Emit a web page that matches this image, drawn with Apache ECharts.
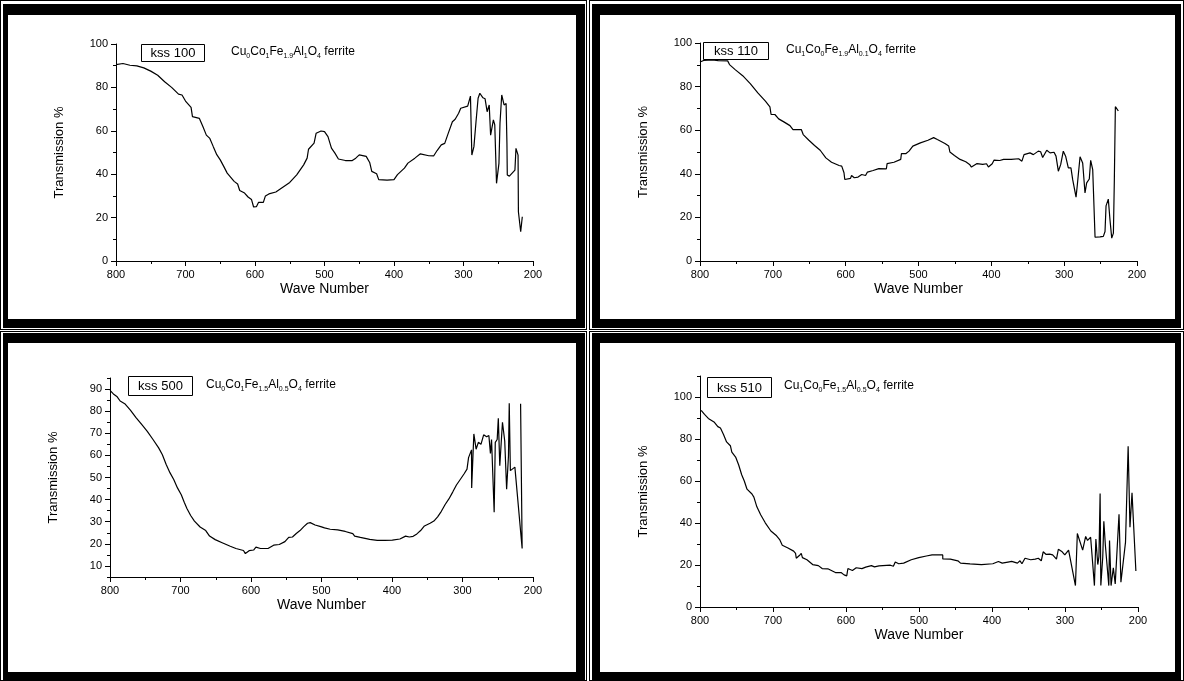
<!DOCTYPE html>
<html>
<head>
<meta charset="utf-8">
<script src="https://cdn.jsdelivr.net/npm/echarts@6/dist/echarts.min.js"></script>
<style>
  html, body { margin: 0; padding: 0; background: #fff; }
  #wrap { position: relative; width: 1184px; height: 681px; overflow: hidden; background: #fff; }
  .thin { position: absolute; border: 1px solid #000; box-sizing: border-box; }
  .band { position: absolute; border-style: solid; border-color: #000; box-sizing: border-box; }
  #chart { position: absolute; left: 0; top: 0; width: 1184px; height: 681px; }
</style>
</head>
<body>
<div id="wrap">
  <div id="frames"></div>
  <div id="chart"></div>
</div>
<script>
// ---------------- DATA ----------------
const panelNames = ['kss 100', 'kss 110', 'kss 500', 'kss 510'];

const xMajorTicks = [200, 300, 400, 500, 600, 700, 800];
const xMinorTicks = [250, 350, 450, 550, 650, 750];

const y1Major = [0, 20, 40, 60, 80, 100];
const y1Minor = [10, 30, 50, 70, 90];
const y3Major = [10, 20, 30, 40, 50, 60, 70, 80, 90];
const y3Minor = [5, 15, 25, 35, 45, 55, 65, 75, 85, 95];
const y4Major = [0, 20, 40, 60, 80, 100];
const y4Minor = [10, 30, 50, 70, 90, 110];

// kss 100
const p1Wave = [800,790,780,770,760,750,740,730,720,710,705,700,692,690,680,675,670,665,660,655,650,645,640,630,625,622,615,610,605,602,598,595,588,585,580,570,560,550,540,530,525,523,515,512,505,500,495,490,485,480,470,460,455,450,440,435,432,425,422,410,400,395,385,380,370,362,350,343,338,332,327,322,316,312,307,304,302,294,290,288,285,282,279,276.5,272,269,266,263,261,257,255,252.5,249,247.5,245,241.6,238.7,237.5,237,234,226,224.5,221.5,221,217.7,215.4];
const p1Trans = [90.5,91.0,90.2,89.9,89.0,87.5,85.6,82.6,80.0,76.9,76.5,73.7,70.8,66.5,65.7,62.0,58.0,56.5,52.7,49.0,46.6,43.6,40.5,36.7,35.5,32.5,31.3,29.5,28.3,24.9,25.0,27.0,27.0,30.0,30.9,31.8,34.0,36.2,39.7,44.3,47.4,51.5,54.3,58.9,59.9,59.6,57.3,52.0,49.7,47.0,46.3,46.3,47.4,48.9,48.2,45.4,41.3,40.2,37.5,37.3,37.5,39.8,42.8,45.1,47.4,49.4,48.5,48.4,50.9,53.5,54.2,58.8,64.2,65.3,68.1,70.4,71.3,71.4,76.0,48.8,52.7,64.2,75.0,77.3,75.2,74.8,68.8,71.9,58.0,65.0,62.7,35.8,45.0,63.5,76.5,71.9,72.6,54.2,39.6,39.1,41.9,51.9,48.8,22.7,13.5,20.4];

// kss 110
const p2Wave = [800,795,783,781,775,762,759.5,751.7,741.4,731,720.6,710.2,704,702.4,697.2,694.6,692,684.3,676.5,672.3,660.9,658.3,650.5,642.7,635,627.2,619.4,609,605.4,602.3,601.2,593.4,591.9,588.2,583,577.9,572.7,570.1,562.3,554.5,544.1,543.1,533.7,524.4,523.4,517.1,513,507.8,497.4,487,479.2,474.1,463.7,458.5,456.9,450.7,442.9,435.1,429.9,427.3,419.6,411.8,406.6,404,398.8,396.2,388.4,383.2,372.8,370.2,362.5,358,355.1,346.9,342.3,335.5,332.3,329.5,323.9,319.4,313.9,311.2,308,304.8,301.2,298,294.3,290.7,288.3,283.7,281.9,278.2,274.6,273.7,271.4,269.1,265.5,263.6,260.8,257.6,250.8,246.2,243.9,242.5,239.4,237.1,234.7,232.4,231.1,229.7,225.6];
const p2Trans = [91.3,92.0,92.2,92.8,91.9,91.8,90.1,87.8,85.0,81.4,77.1,73.3,70.7,67.2,67.2,67.9,65.2,63.7,62.1,60.3,60.3,58.0,55.4,53.0,50.8,47.3,45.3,43.8,43.5,40.5,37.4,37.9,39.2,38.2,38.5,39.7,39.2,40.8,41.5,42.4,42.3,44.7,45.3,46.6,49.3,49.3,50.4,52.7,54.2,55.4,56.6,55.7,53.9,52.7,50.0,48.4,46.6,45.5,44.3,43.1,44.7,44.3,44.6,43.1,44.6,46.3,46.1,46.6,46.6,47.0,46.9,45.8,48.8,49.6,48.8,50.4,50.1,47.5,50.8,49.6,49.9,48.1,41.2,44.2,50.4,48.1,42.7,42.7,37.3,29.3,35.0,47.8,45.0,41.2,31.2,35.8,37.6,46.2,41.9,10.9,11.1,11.3,13.5,25.3,28.4,18.9,10.5,12.8,37.3,70.8,68.8];

// kss 500
const p3Wave = [800,795.2,789.8,785.6,779.1,771.1,763.1,755.1,747.1,739,731,725.7,720.3,715,709.6,704.3,698.9,694.7,692.5,690.9,688.2,685.6,680.2,672.2,664.2,658.8,650.8,640.1,629.4,621.4,610.7,608,602.7,596.3,593,586.6,575.9,567.9,559.9,551.9,546.5,541.2,535.8,530.5,525.1,519.8,516,509.1,501.1,495.7,487.7,477,474.3,466.3,464.7,455.6,453,444.9,442.2,431.6,420.9,410.2,399.5,388.8,380.7,375.4,370,364.7,359.4,354,346,340.6,335.3,330,324.6,319.3,313.9,308.6,303.2,297.9,293.6,291.4,287.2,287,283.9,280.7,277.5,273.8,270,265.8,262.6,260.4,258.8,255.1,253.5,250.8,249.2,247.1,243.3,240.1,237.4,234.8,233.7,232.1,225.7,215.4,217.6];
const p3Trans = [89.4,87.8,86.5,84.6,83.4,80.5,77.1,74.0,70.9,67.2,63.4,60.3,55.9,52.2,49.1,45.3,42.2,38.8,38.5,36.0,35.3,32.8,30.3,27.6,26.0,23.5,21.9,20.4,18.9,17.9,17.0,15.6,16.9,17.2,18.5,17.9,17.9,19.4,19.7,21.0,22.9,23.1,24.7,26.0,27.8,29.3,29.6,28.5,27.8,27.2,26.6,26.3,25.6,25.6,24.7,24.6,23.5,22.9,22.2,22.0,21.6,21.6,21.7,22.2,23.5,23.1,23.4,24.5,26.0,28.1,29.3,30.3,32.2,34.7,37.8,40.3,43.4,46.6,49.1,51.6,53.8,59.0,62.5,45.3,69.7,62.8,65.9,65.0,69.3,68.4,69.0,60.9,67.2,34.3,65.9,67.2,76.8,55.3,75.0,66.5,44.7,59.7,83.6,53.1,54.7,17.9,83.4];

// kss 510
const p4Wave = [798.4,793.8,788.6,780.8,775.6,772,767.8,763.6,758.4,756.4,751.2,747,742.9,739.2,735.6,728.8,726.2,722.1,716.9,710.6,702.9,695.1,690.9,687.3,679.5,671.7,669.1,668.1,663.9,661.3,659.7,653.5,645.7,637.9,632.7,624.9,622.3,614.5,606.8,602.6,599,597.4,591.2,586,578.2,573,565.2,561,554.8,539.2,535.1,532.5,527.8,521,510.6,500.3,489.9,482.1,467.5,467.4,457.1,456.1,446.8,443.1,430.1,414.5,398.9,391.2,386,378.2,373,365.2,361.6,359,354.8,347,340.8,336.6,332.5,329.9,326.2,321,316.9,311.7,309.1,303.9,300.3,295.1,292.5,285.7,283.1,275.8,271.7,269.1,264.9,259.7,257.7,255.1,253.5,251.9,250.9,248.3,246.8,244.7,242.1,240,239,236.9,233.8,231.2,226,223.4,217.1,213.5,211,208.2,202.9];
const p4Trans = [93.6,91.7,89.8,88.1,85.9,85.2,82.1,78.6,76.8,73.7,71.4,67.6,63.0,59.9,56.1,53.8,52.3,47.7,43.9,40.1,36.2,33.9,32.1,29.4,28.1,26.6,25.5,23.2,24.5,25.5,23.5,22.5,20.2,19.7,18.3,18.2,17.4,16.4,16.4,15.3,14.8,18.3,17.4,18.7,18.3,19.0,19.7,19.1,19.6,19.9,19.4,21.4,20.6,20.9,22.5,23.5,24.3,24.8,24.8,22.9,22.8,22.0,22.0,20.9,20.5,20.2,20.6,21.7,20.9,21.4,21.7,20.9,22.0,20.6,23.2,22.5,22.8,23.2,22.0,26.3,25.1,25.2,24.8,22.8,27.5,26.3,24.8,27.1,27.8,10.2,35.0,27.1,33.6,31.7,33.2,10.2,32.4,20.2,24.0,54.1,10.2,23.7,40.8,29.4,30.1,10.2,31.7,10.2,18.7,11.0,44.2,11.8,30.9,76.5,38.0,54.4,17.1];

// ---------------- FRAMES (decoration) ----------------
const frameDefs = [
  {thin:[0,0,587,330],    band:[3,4,582,324],   bw:[11,9,9,5]},
  {thin:[589,0,595,330],  band:[592,4,589,324], bw:[11,6,9,8]},
  {thin:[0,331,587,350],  band:[3,333,582,347], bw:[10,9,8,5]},
  {thin:[589,331,595,350],band:[592,333,589,347],bw:[10,6,8,8]}
];
const fr = document.getElementById('frames');
frameDefs.forEach(f => {
  const t = document.createElement('div');
  t.className = 'thin';
  t.style.left = f.thin[0] + 'px'; t.style.top = f.thin[1] + 'px';
  t.style.width = f.thin[2] + 'px'; t.style.height = f.thin[3] + 'px';
  fr.appendChild(t);
  const b = document.createElement('div');
  b.className = 'band';
  b.style.left = f.band[0] + 'px'; b.style.top = f.band[1] + 'px';
  b.style.width = f.band[2] + 'px'; b.style.height = f.band[3] + 'px';
  b.style.borderWidth = f.bw.map(v => v + 'px').join(' ');
  fr.appendChild(b);
});

// ---------------- CHART ----------------
const FONT = 'Arial, "Liberation Sans", sans-serif';
const grids = [
  {left:116, top:44,  width:417, height:217},
  {left:700, top:43,  width:437, height:218},
  {left:110, top:378, width:423, height:199},
  {left:700, top:376, width:438, height:231}
];
const yRanges = [
  {min:0, max:100, major:y1Major, minor:y1Minor},
  {min:0, max:100, major:y1Major, minor:y1Minor},
  {min:5, max:95,  major:y3Major, minor:y3Minor},
  {min:0, max:110, major:y4Major, minor:y4Minor}
];
const waves = [p1Wave, p2Wave, p3Wave, p4Wave];
const trans = [p1Trans, p2Trans, p3Trans, p4Trans];

const xAxes = [], yAxes = [], series = [];
grids.forEach((g, i) => {
  xAxes.push({
    gridIndex:i, type:'value', min:200, max:800, inverse:true,
    axisLine:{show:true, onZero:false, lineStyle:{color:'#000', width:1}},
    axisTick:{show:true, customValues:xMajorTicks, length:5, lineStyle:{color:'#000'}},
    axisLabel:{show:true, customValues:xMajorTicks, color:'#000', fontSize:11, fontFamily:FONT, margin:8},
    splitLine:{show:false},
    name:'Wave Number', nameLocation:'middle', nameGap:21,
    nameTextStyle:{color:'#000', fontSize:14, fontFamily:FONT}
  });
  xAxes.push({
    gridIndex:i, type:'value', min:200, max:800, inverse:true, position:'bottom',
    axisLine:{show:false, onZero:false},
    axisTick:{show:true, customValues:xMinorTicks, length:3, lineStyle:{color:'#000'}},
    axisLabel:{show:false, customValues:xMinorTicks},
    splitLine:{show:false}
  });
  const r = yRanges[i];
  yAxes.push({
    gridIndex:i, type:'value', min:r.min, max:r.max,
    axisLine:{show:true, onZero:false, lineStyle:{color:'#000', width:1}},
    axisTick:{show:true, customValues:r.major, length:5, lineStyle:{color:'#000'}},
    axisLabel:{show:true, customValues:r.major, color:'#000', fontSize:11, fontFamily:FONT, margin:8},
    splitLine:{show:false},
    name:'Transmission %', nameLocation:'middle', nameGap:50,
    nameTextStyle:{color:'#000', fontSize:13, fontFamily:FONT}
  });
  yAxes.push({
    gridIndex:i, type:'value', min:r.min, max:r.max, position:'left',
    axisLine:{show:false, onZero:false},
    axisTick:{show:true, customValues:r.minor, length:3, lineStyle:{color:'#000'}},
    axisLabel:{show:false, customValues:r.minor},
    splitLine:{show:false}
  });
  series.push({
    type:'line', xAxisIndex:2*i, yAxisIndex:2*i,
    data: waves[i].map((w, k) => [w, trans[i][k]]),
    showSymbol:false, symbol:'none', smooth:false, animation:false,
    lineStyle:{color:'#000', width:1.2}
  });
});

const boxes = [
  {x:141, y:44, w:63, h:17, fx:231, fy:52, sub:['0','1','1.9','1']},
  {x:703, y:42, w:65, h:17, fx:786, fy:50, sub:['1','0','1.9','0.1']},
  {x:128, y:376, w:64, h:19, fx:206, fy:385, sub:['0','1','1.5','0.5']},
  {x:707, y:377, w:64, h:20, fx:784, fy:386, sub:['1','0','1.5','0.5']}
];
const graphics = [];
boxes.forEach((b, i) => {
  graphics.push({type:'rect', z:100, shape:{x:b.x+0.5, y:b.y+0.5, width:b.w, height:b.h},
    style:{fill:'#fff', stroke:'#000', lineWidth:1}});
  graphics.push({type:'text', z:101, x:b.x + b.w/2 + 0.5, y:b.y + b.h/2 + 1,
    style:{text:panelNames[i], fill:'#000', font:'13px ' + FONT, align:'center', verticalAlign:'middle'}});
  const s = b.sub;
  graphics.push({type:'text', z:101, x:b.fx, y:b.fy,
    style:{
      text:'{n|Cu}{s|' + s[0] + '}{n|Co}{s|' + s[1] + '}{n|Fe}{s|' + s[2] + '}{n|Al}{s|' + s[3] + '}{n|O}{s|4}{n| ferrite}',
      align:'left', verticalAlign:'middle',
      rich:{
        n:{fontSize:12, fontFamily:FONT, fill:'#000', lineHeight:15},
        s:{fontSize:7, fontFamily:FONT, fill:'#000', lineHeight:9, verticalAlign:'bottom'}
      }
    }});
});

const chart = echarts.init(document.getElementById('chart'), null, {renderer:'canvas', width:1184, height:681});
chart.setOption({
  backgroundColor:'transparent',
  animation:false,
  grid: grids.map(g => Object.assign({containLabel:false, outerBoundsMode:'none'}, g)),
  xAxis: xAxes,
  yAxis: yAxes,
  series: series,
  graphic: graphics
});
</script>
</body>
</html>
